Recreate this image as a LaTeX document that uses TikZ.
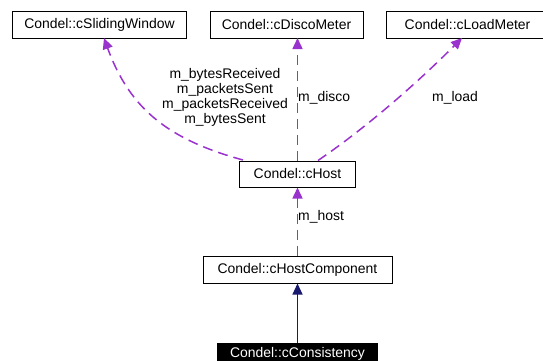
\documentclass[tikz,border=0pt]{standalone}
\usepackage{fontspec}
\setmainfont{Liberation Sans}
\usetikzlibrary{arrows.meta}
\definecolor{edgepurple}{HTML}{9A32CD}
\definecolor{edgenavy}{HTML}{191970}
\begin{document}
\begin{tikzpicture}[x=1bp,y=-1bp,
  cls/.style={draw=black, line width=1bp, fill=white, inner sep=0pt, minimum height=27bp, font=\fontsize{14}{15}\selectfont},
  uses/.style={draw=edgepurple, line width=1.5bp, dash pattern=on 10bp off 6bp, -{Triangle[length=11bp,width=10bp,fill=edgepurple]}},
  inherit/.style={draw=edgenavy, line width=1.3bp, -{Triangle[length=11bp,width=10bp,fill=edgenavy]}},
  lbl/.style={font=\fontsize{14}{15}\selectfont, inner sep=0pt, align=center}]
\useasboundingbox (0,0) rectangle (543,360);
% class boxes
\node[cls, minimum width=174bp] (sw) at (99.5,24.5) {Condel::cSlidingWindow};
\node[cls, minimum width=153bp] (dm) at (286.5,24.5) {Condel::cDiscoMeter};
\node[cls, minimum width=162bp] (lm) at (467.5,24.5) {Condel::cLoadMeter};
\node[cls, minimum width=116bp, minimum height=26bp] (host) at (297.5,174) {Condel::cHost};
\node[cls, minimum width=189bp] (hc) at (297.5,269.5) {Condel::cHostComponent};
\node[cls, fill=black, text=white, minimum width=160bp, minimum height=22bp] (cons) at (297.5,354) {Condel::cConsistency};
% attachment points on the box borders
\coordinate (hostnw) at (243,160);
\coordinate (hostne) at (318,160.5);
\coordinate (dmfoot) at (297.5,38);
\coordinate (swfoot) at (104,38);
\coordinate (lmfoot) at (462,38);
% usage (member) relations
\draw[uses] (hostnw) .. controls (170,140) and (130,110) .. (swfoot);
\draw[uses] (host.north) -- (dmfoot);
\draw[uses] (hostne) .. controls (370,125) and (420,80) .. (lmfoot);
\draw[uses] (hc.north) -- (host.south);
% inheritance
\draw[inherit] (cons.north) -- (hc.south);
% member labels
\node[lbl] (l1) at (225,97) {m\_bytesReceived\\m\_packetsSent\\m\_packetsReceived\\m\_bytesSent};
\node[lbl, anchor=base west] (l2) at (298,101) {m\_disco};
\node[lbl, anchor=base west] (l3) at (432,101) {m\_load};
\node[lbl, anchor=base west] (l4) at (298,220) {m\_host};
\end{tikzpicture}
\end{document}
